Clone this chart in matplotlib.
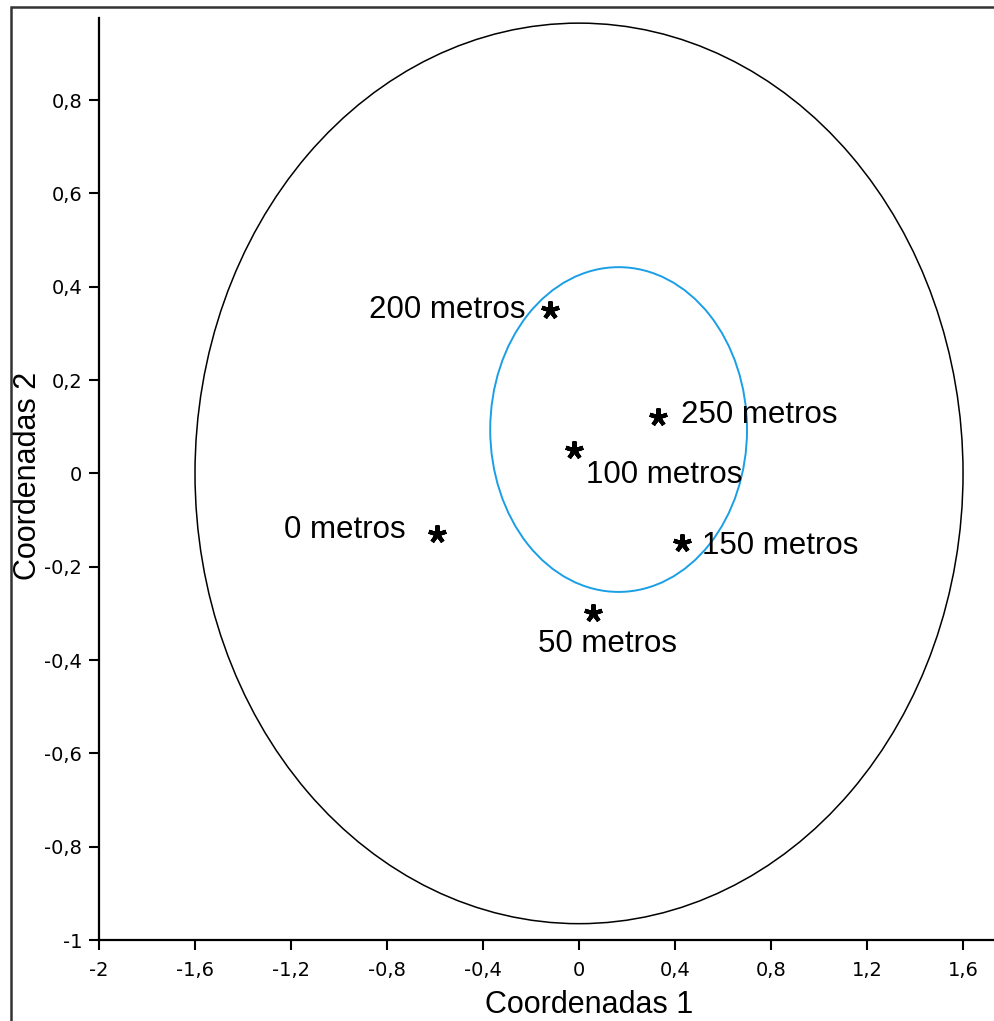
import numpy as np
import matplotlib
matplotlib.use("Agg")
import matplotlib.pyplot as plt
from matplotlib.patches import Ellipse, Rectangle

plt.rcParams['font.family'] = ['Liberation Sans', 'DejaVu Sans']

# Points (coordenadas 1, coordenadas 2)
labels = ["0 metros", "50 metros", "100 metros", "150 metros", "200 metros", "250 metros"]
coord1 = [-0.59, 0.06, -0.02, 0.43, -0.12, 0.33]
coord2 = [-0.13, -0.30, 0.05, -0.15, 0.35, 0.12]

# label offsets in pixels and alignment
offsets = [(-32, 4, "right"), (14, -31, "center"), (12, -25, "left"),
           (20, -3, "left"), (-25, 0, "right"), (23, 2, "left")]

# ellipses: center x, center y, width, height
outer_ellipse = (0.0, 0.0, 3.2, 1.93)
inner_ellipse = (0.165, 0.094, 1.07, 0.696)

xticks = np.round(np.arange(-2, 1.61, 0.4), 1)
yticks = np.round(np.arange(-1, 0.81, 0.2), 1)


def fmt(v):
    if abs(v) < 1e-9:
        return "0"
    return f"{v:g}".replace(".", ",")


fig = plt.figure(figsize=(9.94, 10.21), dpi=100)
ax = fig.add_axes([99 / 994, 81 / 1021, 1 - 99 / 994, 922 / 1021])

ax.add_patch(Ellipse(outer_ellipse[:2], outer_ellipse[2], outer_ellipse[3],
                     fill=False, edgecolor="black", lw=1.1))
ax.add_patch(Ellipse(inner_ellipse[:2], inner_ellipse[2], inner_ellipse[3],
                     fill=False, edgecolor="#1a9fe6", lw=1.4))

ax.plot(coord1, coord2, linestyle="none", marker=(5, 2, 0), color="black",
        markersize=13, markeredgewidth=3)

for x, y, lab, (dx, dy, ha) in zip(coord1, coord2, labels, offsets):
    ax.annotate(lab, (x, y), xytext=(dx, dy), textcoords="offset pixels",
                ha=ha, va="center", fontsize=22.5)

ax.set_xlim(-2, 1.729)
ax.set_ylim(-1, 0.976)
ax.set_xticks(xticks)
ax.set_yticks(yticks)
ax.set_xticklabels([fmt(v) for v in xticks], family="DejaVu Sans")
ax.set_yticklabels([fmt(v) for v in yticks], family="DejaVu Sans")
ax.tick_params(direction="out", length=7, width=1.5, labelsize=14)
ax.tick_params(axis="x", pad=8)
ax.tick_params(axis="y", pad=5)

ax.spines["top"].set_visible(False)
ax.spines["right"].set_visible(False)
ax.spines["left"].set_linewidth(1.6)
ax.spines["bottom"].set_linewidth(1.6)

ax.set_xlabel("Coordenadas 1", fontsize=22)
ax.set_ylabel("Coordenadas 2", fontsize=22)
ax.xaxis.set_label_coords((589 - 99) / 895, (940 - 1005) / 922)
ax.yaxis.set_label_coords((28 - 99) / 895, (940 - 476) / 922)
ax.xaxis.label.set_va("center")
ax.yaxis.label.set_va("center")

# outer frame of the picture
fig.add_artist(Rectangle((11 / 994, -0.05), 1.2, 1.05 - 7 / 1021,
                         transform=fig.transFigure, fill=False,
                         edgecolor="#333333", lw=1.8, clip_on=False))

fig.savefig("out.png", dpi=100)
